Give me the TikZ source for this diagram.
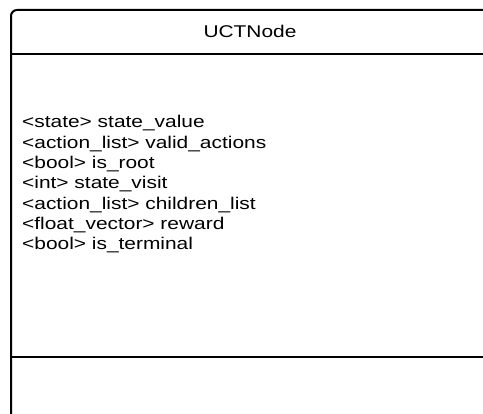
\documentclass[tikz,border=0pt]{standalone}
\usepackage{fontspec}
\setmainfont{Liberation Sans}
% UML class text is set a little wider than the plain font
\newcommand\widetext[1]{\scalebox{1.23}[1]{#1}}
\tikzset{
  umlline/.style={line width=2pt, black},
  umltext/.style={inner sep=0pt, font=\fontsize{17}{20}\selectfont},
}
\begin{document}
\begin{tikzpicture}[x=1pt,y=1pt]
  \useasboundingbox (0,0) rectangle (483,414);
  \clip (0,0) rectangle (483,414);
  % class frame (runs past the right and bottom edges)
  \coordinate (nw) at (11,404);
  \coordinate (se) at (495,-12);
  \draw[umlline, rounded corners=6pt] (nw) rectangle (se);
  % compartment separators
  \coordinate (hdrL) at (11,360);
  \coordinate (hdrR) at (495,360);
  \coordinate (opsL) at (11,57);
  \coordinate (opsR) at (495,57);
  \draw[umlline] (hdrL) -- (hdrR);
  \draw[umlline] (opsL) -- (opsR);
  % class name
  \node[umltext, anchor=base] (title) at (250,376) {\widetext{UCTNode}};
  % attributes
  \foreach \t [count=\i] in {
      {<state> state\_value},
      {<action\_list> valid\_actions},
      {<bool> is\_root},
      {<int> state\_visit},
      {<action\_list> children\_list},
      {<float\_vector> reward},
      {<bool> is\_terminal}}
    \node[umltext, anchor=base west] (attr\i) at (22, 286-20.3*\i+20.3) {\widetext{\t}};
\end{tikzpicture}
\end{document}
